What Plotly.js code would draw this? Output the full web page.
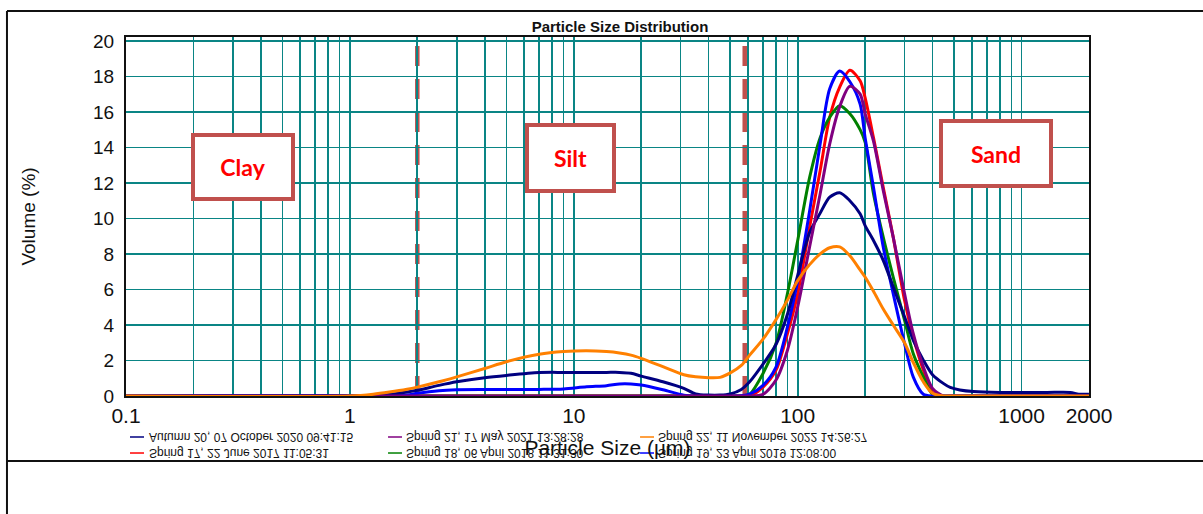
<!DOCTYPE html>
<html>
<head>
<meta charset="utf-8">
<script src="https://cdn.plot.ly/plotly-3.0.1.min.js"></script>
<style>
html,body{margin:0;padding:0;background:#fff;}
#chart{width:1203px;height:514px;}
</style>
</head>
<body>
<div id="chart"></div>
<script>
// Particle sizes (µm)
const sizes = [0.1, 1.0, 1.27, 1.5, 1.8, 2, 2.5, 3, 4, 5, 7, 9, 11.4, 14, 16, 18, 20, 25, 31, 35, 40, 45, 50, 56, 61, 70, 80, 90, 100, 113, 126, 139, 154, 171, 190, 200, 218, 241, 267, 300, 328, 364, 400, 447, 480, 530, 610, 800, 1000, 1300, 1650, 1800, 2000];

// Volume (%) per sample
const spring17 = [0,0,0,0,0,0,0,0,0,0,0,0,0,0,0,0,0,0,0,0,0,0,0,0,0, 0.5,1.46,3.52,5.77,9.5,12.7,15.7,17.4,18.35,17.75,16.8,14.55,11.76,8.95,5.39,3.33,1.46,0.2, 0,0,0,0,0,0,0,0,0,0];
const spring18 = [0,0,0,0,0,0,0,0,0,0,0,0,0,0,0,0,0,0,0,0,0,0,0,0, 0.1,1.27,2.96,5.77,8.76,12.3,14.55,15.7,16.35,15.9,15.0,14.3,11.39,8.95,6.7,4.27,2.4,1.08,0.1, 0,0,0,0,0,0,0,0,0,0];
const spring19 = [0,0,0,0,0.05,0.15,0.3,0.35,0.36,0.36,0.37,0.4,0.52,0.58,0.68,0.68,0.62,0.35,0.05,0,0,0,0,0.02,0.1, 0.6,1.63,3.89,6.5,10.4,14.2,17.3,18.3,17.7,16.44,14.55,11.76,8.39,5.77,2.96,1.08,0.1,0, 0,0,0,0,0,0,0,0,0,0];
const autumn20 = [0,0,0,0.08,0.22,0.32,0.6,0.8,1.03,1.16,1.32,1.33,1.33,1.33,1.33,1.28,1.12,0.8,0.43,0.12,0.05,0.05,0.12,0.37,0.8, 1.8,2.9,4.6,6.8,9.2,10.3,11.2,11.45,11.0,10.26,9.6,8.76,7.64,6.15,4.46,3.15,2.02,1.2, 0.71,0.48,0.34,0.25,0.2,0.2,0.2,0.2,0.1,0.1];
const spring21 = [0,0,0,0,0,0,0,0,0,0,0,0,0,0,0,0,0,0,0,0,0,0,0,0,0, 0.1,0.9,2.58,5.02,8.39,11.39,14.2,16.3,17.45,17.0,15.9,14.36,11.58,8.95,5.77,3.52,1.65,0.43, 0,0,0,0,0,0,0,0,0,0];
const spring22 = [0,0,0.1,0.22,0.38,0.5,0.8,1.08,1.55,1.93,2.35,2.5,2.55,2.5,2.42,2.3,2.12,1.65,1.2,1.08,1.03,1.05,1.3,1.72,2.3, 3.2,4.3,5.4,6.5,7.4,8.0,8.35,8.4,7.9,7.1,6.7,5.9,4.9,4.0,3.0,1.9,0.8,0.15, 0,0,0,0,0,0,0,0,0,0];

const seriesNames = [
  'Spring 17, 22 June 2017 11:05:31',
  'Spring 18, 06 April 2018 11:31:30',
  'Spring 19, 23 April 2019 12:08:00',
  'Autumn 20, 07 October 2020 09:41:15',
  'Spring 21, 17 May 2021 13:28:28',
  'Spring 22, 11 November 2022 14:26:27'
];
const seriesValues = [spring17, spring18, spring19, autumn20, spring21, spring22];
const seriesColors = ['#ff0000', '#008000', '#0000ff', '#000080', '#800080', '#ff8000'];

// legend layout order (row 1 then row 2)
const legendOrder = [3, 4, 5, 0, 1, 2];

// axis ticks
const gridTicks = [0.1,0.2,0.3,0.4,0.5,0.6,0.7,0.8,0.9,1,2,3,4,5,6,7,8,9,10,20,30,40,50,60,70,80,90,100,200,300,400,500,600,700,800,900,1000,2000];
const labeledTicks = [0.1, 1, 10, 100, 1000, 2000];
const tickLabels = ['0.1', '1', '10', '100', '1000', '2000'];
const yTicks = [0,2,4,6,8,10,12,14,16,18,20];

// class boundaries (µm) and class labels
const classBoundaries = [2, 58];
const classNames = ['Clay', 'Silt', 'Sand'];

const narrow = 'Liberation Sans Narrow, Arial Narrow, Liberation Sans, Arial, sans-serif';
const sans = 'Liberation Sans, Arial, sans-serif';

const traces = seriesValues.map((vals, i) => ({
  x: sizes, y: vals, type: 'scatter', mode: 'lines', name: seriesNames[i],
  line: {color: seriesColors[i], width: 3, shape: 'spline', smoothing: 0.8}, hoverinfo: 'skip', showlegend: false
}));

const shapes = [];
classBoundaries.forEach(b => {
  shapes.push({type:'line', xref:'x', yref:'paper', x0:b, x1:b, y0:0, y1:0.985,
    line:{color:'#c0504d', width:4.5, dash:'20px,13px'}, layer:'between'});
});
// outer frame lines
shapes.push({type:'line', xref:'paper', yref:'paper', x0:-0.1236, x1:1.12, y0:1.0724, y1:1.0724, line:{color:'#111', width:2}});
shapes.push({type:'line', xref:'paper', yref:'paper', x0:-0.1236, x1:1.12, y0:-0.1811, y1:-0.1811, line:{color:'#111', width:2}});
shapes.push({type:'line', xref:'paper', yref:'paper', x0:-0.1236, x1:-0.1236, y0:1.0724, y1:-0.34, line:{color:'#111', width:2}});

// legend (custom)
const legCols = [[0.00415, 0.0187, 0.0218], [0.2721, 0.2866, 0.2887], [0.5338, 0.5483, 0.5504]];
const legRows = [-0.1142, -0.1588];
const annotations = [];
legendOrder.forEach((si, k) => {
  const c = legCols[k % 3], r = legRows[Math.floor(k / 3)];
  shapes.push({type:'line', xref:'paper', yref:'paper', x0:c[0], x1:c[1], y0:r, y1:r, line:{color:seriesColors[si], width:1.5}});
  annotations.push({xref:'paper', yref:'paper', x:c[2], y:r, xanchor:'left', yanchor:'middle', showarrow:false,
    text: seriesNames[si], font:{family:narrow, size:12, color:'#111'}});
});

// class label boxes
const boxes = [
  {x:0.1215, y:0.6379, w:94, h:58},
  {x:0.4616, y:0.663, w:81, h:60},
  {x:0.9034, y:0.6755, w:104, h:59}
];
classNames.forEach((n, i) => {
  const b = boxes[i];
  annotations.push({xref:'paper', yref:'paper', x:b.x, y:b.y, xanchor:'center', yanchor:'middle', showarrow:false,
    text:'<b>' + n + '</b>', font:{family:'Lato, Open Sans, sans-serif', size:23, color:'#ff0000'},
    bgcolor:'#ffffff', bordercolor:'#c0504d', borderwidth:4, borderpad:1, width:b.w, height:b.h, align:'center', valign:'middle'});
});

const layout = {
  width: 1203, height: 514,
  margin: {l:126, r:114, t:37, b:118},
  paper_bgcolor: '#ffffff', plot_bgcolor: '#ffffff',
  showlegend: false,
  title: {text:'<b>Particle Size Distribution</b>', font:{family:sans, size:15, color:'#111'},
    xref:'paper', x:0.513, xanchor:'center', yref:'container', y:0.947, yanchor:'middle'},
  xaxis: {
    type:'log', range:[-1, Math.log10(2000)], tickmode:'array', tickvals:gridTicks,
    ticktext: gridTicks.map(v => { const k = labeledTicks.indexOf(v); return k >= 0 ? tickLabels[k] : ''; }),
    showgrid:true, gridcolor:'#0a8585', gridwidth:1.6, zeroline:false,
    showline:true, linecolor:'#111', linewidth:2, mirror:true, ticks:'',
    tickfont:{family:narrow, size:21, color:'#111'},
    title:{text:'Particle Size (µm)', font:{family:narrow, size:21, color:'#111'}, standoff:14}
  },
  yaxis: {
    range:[0, 20.22], tickmode:'array', tickvals:yTicks,
    showgrid:true, gridcolor:'#0a8585', gridwidth:1.6, zeroline:false,
    showline:true, linecolor:'#111', linewidth:2, mirror:true, ticks:'',
    ticklabelstandoff:6,
    tickfont:{family:narrow, size:19, color:'#111'},
    title:{text:'Volume (%)', font:{family:sans, size:19, color:'#111'}, standoff:52}
  },
  shapes: shapes,
  annotations: annotations
};

Plotly.newPlot('chart', traces, layout, {displayModeBar:false, staticPlot:true}).then(gd => {
  // legend texts appear mirrored vertically in the original export
  const nodes = gd.querySelectorAll('.annotation');
  nodes.forEach((g, idx) => {
    if (idx < legendOrder.length) {
      const t = g.querySelector('text.annotation-text');
      if (t) {
        t.style.transformBox = 'fill-box';
        t.style.transformOrigin = 'center';
        t.style.transform = 'scaleY(-1)';
      }
    }
  });
});
</script>
</body>
</html>
